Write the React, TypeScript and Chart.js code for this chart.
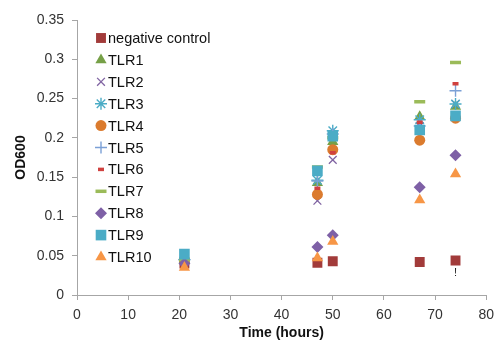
import React, { useEffect, useRef } from "react";
import { Chart, registerables } from "chart.js";
import { drawPoint } from "chart.js/helpers";

Chart.register(...registerables);

// Sampling times (hours)
const times = [21, 47, 50, 67, 74];

// OD600 readings per strain
const negativeControl = [0.04, 0.041, 0.043, 0.042, 0.044];
const tlr1 = [0.045, 0.143, 0.195, 0.227, 0.24];
const tlr2 = [0.045, 0.12, 0.172, 0.215, 0.243];
const tlr3 = [0.045, 0.146, 0.209, 0.223, 0.243];
const tlr4 = [0.045, 0.128, 0.185, 0.197, 0.225];
const tlr5 = [0.045, 0.145, 0.205, 0.215, 0.26];
const tlr6 = [0.045, 0.136, 0.181, 0.22, 0.269];
const tlr7 = [0.045, 0.163, 0.2, 0.246, 0.296];
const tlr8 = [0.04, 0.061, 0.076, 0.137, 0.178];
const tlr9 = [0.052, 0.158, 0.202, 0.21, 0.228];
const tlr10 = [0.035, 0.047, 0.068, 0.121, 0.154];

const seriesLabels = [
  "negative control", "TLR1", "TLR2", "TLR3", "TLR4", "TLR5",
  "TLR6", "TLR7", "TLR8", "TLR9", "TLR10",
];
const seriesValues = [
  negativeControl, tlr1, tlr2, tlr3, tlr4, tlr5, tlr6, tlr7, tlr8, tlr9, tlr10,
];

// Note placed under the last negative-control reading
const noteText = "!";
const noteTime = 74;
const noteValue = 0.028;

const xTicks = [0, 10, 20, 30, 40, 50, 60, 70, 80];
const yTicks = [0, 0.05, 0.1, 0.15, 0.2, 0.25, 0.3, 0.35];

type MarkerStyle = {
  pointStyle: string;
  radius: number;
  color: string;
  borderWidth: number;
};

const markers: MarkerStyle[] = [
  { pointStyle: "rect", radius: 7, color: "#A23B3A", borderWidth: 0 },
  { pointStyle: "triangle", radius: 6.5, color: "#76A047", borderWidth: 0 },
  { pointStyle: "crossRot", radius: 5.5, color: "#8064A2", borderWidth: 1.3 },
  { pointStyle: "star", radius: 6, color: "#4BACC6", borderWidth: 1.4 },
  { pointStyle: "circle", radius: 5.5, color: "#DB7B2E", borderWidth: 0 },
  { pointStyle: "cross", radius: 6, color: "#7BA0D6", borderWidth: 1.4 },
  { pointStyle: "line", radius: 3, color: "#D0413F", borderWidth: 3.5 },
  { pointStyle: "line", radius: 5.5, color: "#9BBB59", borderWidth: 3.5 },
  { pointStyle: "rectRot", radius: 6, color: "#7E60A6", borderWidth: 0 },
  { pointStyle: "rect", radius: 7.5, color: "#4BACC6", borderWidth: 0 },
  { pointStyle: "triangle", radius: 6.5, color: "#F79646", borderWidth: 0 },
];

const fontFamily = "'Liberation Sans', Arial, sans-serif";

// Legend drawn inside the plot area, plus the small text note
const insideLegend = {
  id: "insideLegend",
  afterDatasetsDraw(chart: any) {
    const ctx = chart.ctx as CanvasRenderingContext2D;
    const markerX = 101;
    const textX = 108;
    const firstY = 38;
    const rowGap = 21.9;
    ctx.save();
    ctx.font = `14.5px ${fontFamily}`;
    ctx.textBaseline = "middle";
    ctx.textAlign = "left";
    seriesLabels.forEach((label, i) => {
      const m = markers[i];
      const y = firstY + i * rowGap;
      ctx.fillStyle = m.color;
      ctx.strokeStyle = m.color;
      ctx.lineWidth = m.borderWidth;
      drawPoint(ctx, {
        pointStyle: m.pointStyle,
        radius: m.radius,
        rotation: 0,
        borderWidth: m.borderWidth,
      } as any, markerX, y);
      ctx.fillStyle = "#111";
      ctx.fillText(label, textX, y + 1);
    });

    const xs = chart.scales.x;
    const ys = chart.scales.y;
    ctx.font = `11px ${fontFamily}`;
    ctx.textAlign = "center";
    ctx.fillStyle = "#222";
    ctx.fillText(noteText, xs.getPixelForValue(noteTime), ys.getPixelForValue(noteValue));
    ctx.restore();
  },
};

export default function App() {
  const canvasRef = useRef<HTMLCanvasElement | null>(null);

  useEffect(() => {
    if (!canvasRef.current) return;
    const datasets = seriesLabels.map((label, i) => {
      const m = markers[i];
      return {
        label,
        data: times.map((t, j) => ({ x: t, y: seriesValues[i][j] })),
        pointStyle: m.pointStyle,
        pointRadius: m.radius,
        pointHoverRadius: m.radius,
        pointBackgroundColor: m.color,
        pointBorderColor: m.color,
        pointBorderWidth: m.borderWidth,
        showLine: false,
        // later series sit on top of earlier ones
        order: seriesLabels.length - i,
      };
    });

    const chart = new Chart(canvasRef.current, {
      type: "scatter",
      data: { datasets: datasets as any },
      options: {
        responsive: false,
        animation: false,
        layout: { padding: { left: 0, top: 20, right: 10, bottom: 0 } },
        plugins: {
          legend: { display: false },
          tooltip: { enabled: false },
        },
        scales: {
          x: {
            type: "linear",
            min: 0,
            max: 80,
            afterBuildTicks: (scale: any) => {
              scale.ticks = xTicks.map((v) => ({ value: v }));
            },
            afterFit: (scale: any) => {
              scale.height = 59;
            },
            ticks: {
              color: "#333",
              font: { family: fontFamily, size: 14 },
              padding: 7,
              maxRotation: 0,
            },
            grid: {
              display: true,
              drawOnChartArea: false,
              drawTicks: true,
              tickLength: 5,
              color: "#A6A6A6",
            },
            border: { display: true, color: "#A6A6A6", width: 1 },
            title: {
              display: true,
              text: "Time (hours)",
              color: "#111",
              font: { family: fontFamily, size: 14, weight: "bold" },
              padding: { top: 0, bottom: 12.6 },
            },
          },
          y: {
            type: "linear",
            min: 0,
            max: 0.35,
            afterBuildTicks: (scale: any) => {
              scale.ticks = yTicks.map((v) => ({ value: v }));
            },
            afterFit: (scale: any) => {
              scale.width = 77;
            },
            ticks: {
              color: "#333",
              font: { family: fontFamily, size: 14 },
              padding: 8,
              callback: (v: any) => String(Math.round(Number(v) * 100) / 100),
            },
            grid: {
              display: true,
              drawOnChartArea: false,
              drawTicks: true,
              tickLength: 5,
              color: "#A6A6A6",
            },
            border: { display: true, color: "#A6A6A6", width: 1 },
            title: {
              display: true,
              text: "OD600",
              color: "#111",
              font: { family: fontFamily, size: 14, weight: "bold" },
              padding: { top: 12.6, bottom: 0 },
            },
          },
        },
      },
      plugins: [insideLegend],
    });

    return () => chart.destroy();
  }, []);

  return (
    <div style={{ position: "absolute", left: 0, top: 0, width: 501, height: 354, background: "#fff" }}>
      <canvas ref={canvasRef} width={501} height={354} style={{ display: "block" }} />
    </div>
  );
}
